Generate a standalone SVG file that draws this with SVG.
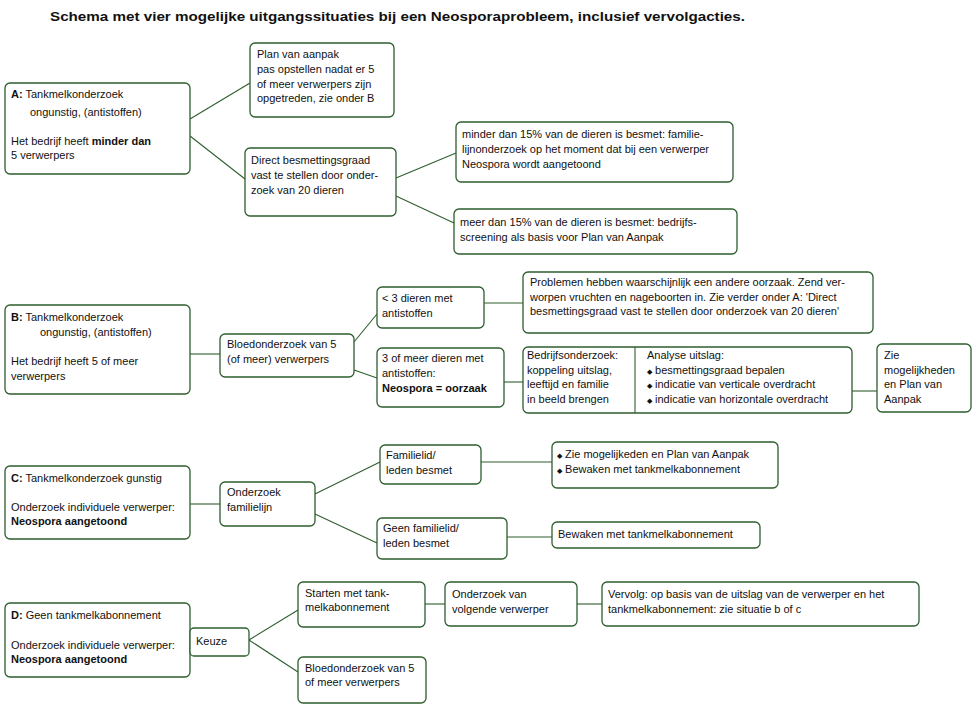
<svg xmlns="http://www.w3.org/2000/svg" width="976" height="709" viewBox="0 0 976 709">
<style>
.box{fill:#fff;stroke:#2e5e2e;stroke-width:1.3}
.ln{stroke:#2e5e2e;stroke-width:1.1;fill:none}
text{font-family:"Liberation Sans",Arial,sans-serif;font-size:11px;fill:#111}
.b{font-weight:bold}
.t{font-size:13px;font-weight:bold}
.bl{font-size:7px}
</style>
<rect width="976" height="709" fill="#fff"/>
<text class="t" x="50" y="21" textLength="695" lengthAdjust="spacingAndGlyphs">Schema met vier mogelijke uitgangssituaties bij een Neosporaprobleem, inclusief vervolgacties.</text>

<g id="connectors">
<line class="ln" x1="190" y1="119" x2="250" y2="83"/>
<line class="ln" x1="190" y1="136" x2="245" y2="179"/>
<line class="ln" x1="396" y1="178" x2="456" y2="153"/>
<line class="ln" x1="396" y1="196" x2="454" y2="223"/>
<line class="ln" x1="190" y1="354" x2="220" y2="354"/>
<line class="ln" x1="354" y1="342" x2="377" y2="314"/>
<line class="ln" x1="354" y1="370" x2="377" y2="378"/>
<line class="ln" x1="484" y1="303" x2="523" y2="303"/>
<line class="ln" x1="504" y1="382" x2="523" y2="382"/>
<line class="ln" x1="852" y1="391" x2="877" y2="391"/>
<line class="ln" x1="190" y1="504" x2="220" y2="504"/>
<line class="ln" x1="315" y1="494" x2="380" y2="462"/>
<line class="ln" x1="315" y1="514" x2="377" y2="543"/>
<line class="ln" x1="481" y1="462" x2="552" y2="462"/>
<line class="ln" x1="507" y1="537" x2="552" y2="537"/>
<line class="ln" x1="249" y1="640" x2="298" y2="610"/>
<line class="ln" x1="249" y1="640" x2="298" y2="672"/>
<line class="ln" x1="425" y1="604" x2="445" y2="604"/>
<line class="ln" x1="577" y1="604" x2="602" y2="604"/>
</g>

<g id="nodeA">
<rect class="box" x="5" y="83" width="185" height="91" rx="5"/>
<text x="11" y="98"><tspan class="b">A:</tspan> Tankmelkonderzoek</text>
<text x="30" y="116">ongunstig, (antistoffen)</text>
<text x="11" y="145">Het bedrijf heeft <tspan class="b">minder dan</tspan></text>
<text x="11" y="159">5 verwerpers</text>
</g>
<g id="nodePlan">
<rect class="box" x="250" y="43" width="144" height="74" rx="5"/>
<text x="257" y="58">Plan van aanpak</text>
<text x="257" y="73">pas opstellen nadat er 5</text>
<text x="257" y="88">of meer verwerpers zijn</text>
<text x="257" y="102">opgetreden, zie onder B</text>
</g>
<g id="nodeDirect">
<rect class="box" x="245" y="148" width="151" height="68" rx="5"/>
<text x="251" y="164">Direct besmettingsgraad</text>
<text x="251" y="179">vast te stellen door onder-</text>
<text x="251" y="194">zoek van 20 dieren</text>
</g>
<g id="nodeMinder">
<rect class="box" x="456" y="122" width="277" height="60" rx="5"/>
<text x="462" y="138">minder dan 15% van de dieren is besmet: familie-</text>
<text x="462" y="153">lijnonderzoek op het moment dat bij een verwerper</text>
<text x="462" y="168">Neospora wordt aangetoond</text>
</g>
<g id="nodeMeer">
<rect class="box" x="454" y="209" width="283" height="45" rx="5"/>
<text x="460" y="226">meer dan 15% van de dieren is besmet: bedrijfs-</text>
<text x="460" y="241">screening als basis voor Plan van Aanpak</text>
</g>

<g id="nodeB">
<rect class="box" x="5" y="305" width="185" height="89" rx="5"/>
<text x="11" y="321"><tspan class="b">B:</tspan> Tankmelkonderzoek</text>
<text x="40" y="336">ongunstig, (antistoffen)</text>
<text x="11" y="365">Het bedrijf heeft 5 of meer</text>
<text x="11" y="380">verwerpers</text>
</g>
<g id="nodeBloed">
<rect class="box" x="220" y="334" width="134" height="43" rx="5"/>
<text x="227" y="348">Bloedonderzoek van 5</text>
<text x="227" y="363">(of meer) verwerpers</text>
</g>
<g id="nodeMin3">
<rect class="box" x="377" y="287" width="107" height="41" rx="5"/>
<text x="382" y="302">&lt; 3 dieren met</text>
<text x="382" y="317">antistoffen</text>
</g>
<g id="nodeMeer3">
<rect class="box" x="377" y="348" width="127" height="59" rx="5"/>
<text x="382" y="362">3 of meer dieren met</text>
<text x="382" y="377">antistoffen:</text>
<text x="382" y="392" class="b">Neospora = oorzaak</text>
</g>
<g id="nodeProblemen">
<rect class="box" x="523" y="272" width="350" height="61" rx="5"/>
<text x="530" y="286">Problemen hebben waarschijnlijk een andere oorzaak. Zend ver-</text>
<text x="530" y="301">worpen vruchten en nageboorten in. Zie verder onder A: 'Direct</text>
<text x="530" y="315">besmettingsgraad vast te stellen door onderzoek van 20 dieren'</text>
</g>
<g id="nodeBedrijf">
<rect class="box" x="523" y="347" width="329" height="66" rx="5"/>
<line class="ln" x1="635" y1="347" x2="635" y2="413"/>
<text x="527" y="359">Bedrijfsonderzoek:</text>
<text x="527" y="374">koppeling uitslag,</text>
<text x="527" y="388">leeftijd en familie</text>
<text x="527" y="403">in beeld brengen</text>
<text x="647" y="359">Analyse uitslag:</text>
<text x="647" y="374"><tspan class="bl">◆</tspan> besmettingsgraad bepalen</text>
<text x="647" y="388"><tspan class="bl">◆</tspan> indicatie van verticale overdracht</text>
<text x="647" y="403"><tspan class="bl">◆</tspan> indicatie van horizontale overdracht</text>
</g>
<g id="nodeZie">
<rect class="box" x="877" y="344" width="94" height="68" rx="5"/>
<text x="884" y="359">Zie</text>
<text x="884" y="374">mogelijkheden</text>
<text x="884" y="388">en Plan van</text>
<text x="884" y="403">Aanpak</text>
</g>

<g id="nodeC">
<rect class="box" x="5" y="466" width="185" height="73" rx="5"/>
<text x="11" y="482"><tspan class="b">C:</tspan> Tankmelkonderzoek gunstig</text>
<text x="11" y="511">Onderzoek individuele verwerper:</text>
<text x="11" y="525" class="b">Neospora aangetoond</text>
</g>
<g id="nodeFamilielijn">
<rect class="box" x="220" y="482" width="95" height="44" rx="5"/>
<text x="227" y="496">Onderzoek</text>
<text x="227" y="511">familielijn</text>
</g>
<g id="nodeFamBesmet">
<rect class="box" x="380" y="445" width="101" height="39" rx="5"/>
<text x="386" y="459">Familielid/</text>
<text x="386" y="474">leden besmet</text>
</g>
<g id="nodeGeenFam">
<rect class="box" x="377" y="518" width="130" height="41" rx="5"/>
<text x="383" y="532">Geen familielid/</text>
<text x="383" y="547">leden besmet</text>
</g>
<g id="nodeZieC">
<rect class="box" x="552" y="442" width="226" height="46" rx="5"/>
<text x="557" y="458"><tspan class="bl">◆</tspan> Zie mogelijkeden en Plan van Aanpak</text>
<text x="557" y="473"><tspan class="bl">◆</tspan> Bewaken met tankmelkabonnement</text>
</g>
<g id="nodeBewaken">
<rect class="box" x="552" y="522" width="208" height="26" rx="5"/>
<text x="558" y="538">Bewaken met tankmelkabonnement</text>
</g>

<g id="nodeD">
<rect class="box" x="5" y="603" width="185" height="74" rx="5"/>
<text x="11" y="619"><tspan class="b">D:</tspan> Geen tankmelkabonnement</text>
<text x="11" y="649">Onderzoek individuele verwerper:</text>
<text x="11" y="663" class="b">Neospora aangetoond</text>
</g>
<g id="nodeKeuze">
<rect class="box" x="190" y="628" width="59" height="28" rx="4"/>
<text x="196" y="645">Keuze</text>
</g>
<g id="nodeStarten">
<rect class="box" x="298" y="582" width="127" height="45" rx="5"/>
<text x="305" y="597">Starten met tank-</text>
<text x="305" y="611">melkabonnement</text>
</g>
<g id="nodeBloedD">
<rect class="box" x="298" y="657" width="128" height="46" rx="5"/>
<text x="305" y="672">Bloedonderzoek van 5</text>
<text x="305" y="686">of meer verwerpers</text>
</g>
<g id="nodeVolgende">
<rect class="box" x="445" y="582" width="132" height="44" rx="5"/>
<text x="452" y="598">Onderzoek van</text>
<text x="452" y="613">volgende verwerper</text>
</g>
<g id="nodeVervolg">
<rect class="box" x="602" y="582" width="317" height="44" rx="5"/>
<text x="608" y="598">Vervolg: op basis van de uitslag van de verwerper en het</text>
<text x="608" y="613">tankmelkabonnement: zie situatie b of c</text>
</g>
</svg>
